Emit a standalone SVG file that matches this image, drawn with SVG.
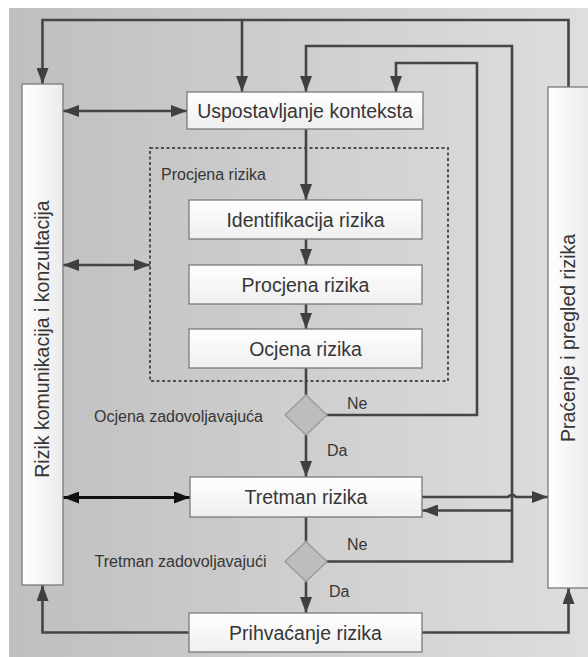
<svg xmlns="http://www.w3.org/2000/svg" width="588" height="657" viewBox="0 0 588 657">
  <defs>
    <linearGradient id="bg" x1="0" y1="0" x2="1" y2="0">
      <stop offset="0" stop-color="#bfbfbf"/>
      <stop offset="1" stop-color="#dedede"/>
    </linearGradient>
    <linearGradient id="boxfill" x1="0" y1="0" x2="0" y2="1">
      <stop offset="0" stop-color="#ffffff"/>
      <stop offset="1" stop-color="#efefef"/>
    </linearGradient>
    <linearGradient id="sidefill" x1="0" y1="0" x2="1" y2="0">
      <stop offset="0" stop-color="#ffffff"/>
      <stop offset="1" stop-color="#ebebeb"/>
    </linearGradient>
    <marker id="ah" viewBox="0 0 16 12" refX="16" refY="6" markerWidth="16" markerHeight="12" markerUnits="userSpaceOnUse" orient="auto-start-reverse">
      <path d="M0,0 L16,6 L0,12 z" fill="#404040"/>
    </marker>
    <marker id="ahk" viewBox="0 0 16 12" refX="16" refY="6" markerWidth="16" markerHeight="12" markerUnits="userSpaceOnUse" orient="auto-start-reverse">
      <path d="M0,0 L16,6 L0,12 z" fill="#111111"/>
    </marker>
  </defs>
  <style>
    .box { fill: url(#boxfill); stroke: #7a7a7a; stroke-width: 1.3; }
    .side { fill: url(#sidefill); stroke: #7a7a7a; stroke-width: 1.3; }
    .dec { fill: #bdbdbd; stroke: #9a9a9a; stroke-width: 1.3; }
    .ln { fill: none; stroke: #454545; stroke-width: 2.6; }
    .arr { marker-end: url(#ah); }
    .dbl { marker-start: url(#ah); marker-end: url(#ah); }
    .blk { fill: none; stroke: #111; stroke-width: 2.8; marker-start: url(#ahk); marker-end: url(#ahk); }
    .dash { fill: none; stroke: #505050; stroke-width: 2; stroke-dasharray: 3 2.5; }
    text { font-family: "Liberation Sans", Arial, sans-serif; fill: #363636; }
    .bt { font-size: 19.5px; text-anchor: middle; }
    .lb { font-size: 16px; }
    .rt { text-anchor: end; }
  </style>

  <!-- background panel -->
  <rect x="9" y="8" width="580" height="650" fill="url(#bg)"/>

  <!-- dashed assessment frame -->
  <g id="procjena-frame">
    <rect class="dash" x="150" y="148" width="298" height="233"/>
    <text class="lb" x="161" y="180">Procjena rizika</text>
  </g>

  <!-- connectors -->
  <g id="connectors">
    <!-- top feedback loop from monitoring box -->
    <path class="ln arr" d="M568.5,87 V20 H42.5 V84"/>
    <path class="ln arr" d="M242,20 V92"/>
    <!-- treatment not satisfactory loop -->
    <path class="ln arr" d="M326.5,561.5 H512 V46 H306 V92"/>
    <path class="ln arr" d="M512,510.5 H422"/>
    <!-- assessment not satisfactory loop -->
    <path class="ln arr" d="M326.5,415 H477 V63 H396 V92"/>
    <!-- main flow -->
    <path class="ln arr" d="M306,129 V200"/>
    <path class="ln arr" d="M306,239 V265"/>
    <path class="ln arr" d="M306,304 V329"/>
    <path class="ln" d="M306,368 V395"/>
    <path class="ln arr" d="M306,435 V477"/>
    <path class="ln" d="M306,517 V541.5"/>
    <path class="ln arr" d="M306,581.5 V613"/>
    <!-- acceptance to side boxes -->
    <path class="ln arr" d="M189,632.5 H42.5 V585"/>
    <path class="ln arr" d="M422,632.5 H568.5 V588"/>
    <!-- treatment to monitoring, hopping over the loop line -->
    <path class="ln arr" d="M422,497 H508 q4,-4 8,0 H548"/>
    <!-- communication links -->
    <path class="ln dbl" d="M63,111 H187"/>
    <path class="ln dbl" d="M63,265 H150"/>
    <path class="blk" d="M63,497.5 H190"/>
  </g>

  <g id="komunikacija">
    <rect class="side" x="22" y="84" width="41" height="501"/>
    <text class="bt" transform="translate(49,339) rotate(-90)">Rizik komunikacija i konzultacija</text>
  </g>

  <g id="pracenje">
    <rect class="side" x="548" y="87" width="42" height="501"/>
    <text class="bt" transform="translate(575,338) rotate(-90)">Praćenje i pregled rizika</text>
  </g>

  <g id="uspostavljanje">
    <rect class="box" x="187" y="92" width="236" height="37"/>
    <text class="bt" x="305" y="117.5">Uspostavljanje konteksta</text>
  </g>

  <g id="identifikacija">
    <rect class="box" x="189" y="200" width="233" height="39"/>
    <text class="bt" x="305.5" y="226.5">Identifikacija rizika</text>
  </g>

  <g id="procjena">
    <rect class="box" x="189" y="265" width="233" height="39"/>
    <text class="bt" x="305.5" y="291.5">Procjena rizika</text>
  </g>

  <g id="ocjena">
    <rect class="box" x="189" y="329" width="233" height="39"/>
    <text class="bt" x="305.5" y="355.5">Ocjena rizika</text>
  </g>

  <g id="odluka-ocjena">
    <path class="dec" d="M306,395 L327,415 L306,435 L285,415 z"/>
    <text class="lb rt" x="263" y="421.5">Ocjena zadovoljavajuća</text>
    <text class="lb" x="347" y="409">Ne</text>
    <text class="lb" x="327" y="456">Da</text>
  </g>

  <g id="tretman">
    <rect class="box" x="190" y="477" width="232" height="40"/>
    <text class="bt" x="306" y="504">Tretman rizika</text>
  </g>

  <g id="odluka-tretman">
    <path class="dec" d="M306,541.5 L327,561.5 L306,581.5 L285,561.5 z"/>
    <text class="lb rt" x="266.5" y="567">Tretman zadovoljavajući</text>
    <text class="lb" x="347" y="550">Ne</text>
    <text class="lb" x="329" y="597">Da</text>
  </g>

  <g id="prihvacanje">
    <rect class="box" x="189" y="613" width="233" height="39"/>
    <text class="bt" x="305.5" y="639.5">Prihvaćanje rizika</text>
  </g>
</svg>
